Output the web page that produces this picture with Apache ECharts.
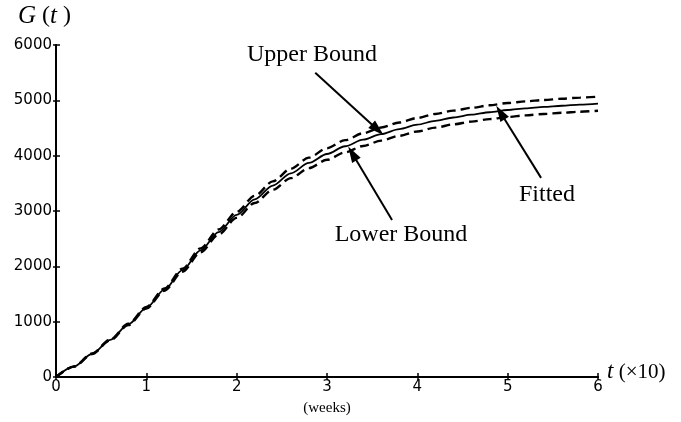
<!DOCTYPE html>
<html>
<head>
<meta charset="utf-8">
<script src="https://cdn.jsdelivr.net/npm/echarts@6/dist/echarts.min.js"></script>
<style>
  html, body { margin: 0; padding: 0; background: #fff; }
  #chart { width: 681px; height: 422px; }
</style>
</head>
<body>
<div id="chart"></div>
<script>
// time in units of 10 weeks
var tValues = [0, 0.2, 0.4, 0.6, 0.8, 1.0, 1.2, 1.4, 1.6, 1.8, 2.0, 2.2, 2.4, 2.6, 2.8, 3.0,
               3.2, 3.4, 3.6, 3.8, 4.0, 4.2, 4.4, 4.6, 4.8, 5.0, 5.2, 5.4, 5.6, 5.8, 6.0];
var fitted = [0, 190, 420, 670, 950, 1250, 1580, 1930, 2290, 2620, 2930, 3210, 3460, 3680, 3870, 4030,
              4170, 4290, 4390, 4480, 4560, 4630, 4690, 4740, 4785, 4825, 4855, 4880, 4902, 4922, 4940];
var upperBound = [0, 192, 425, 678, 962, 1265, 1600, 1958, 2325, 2665, 2985, 3275, 3535, 3765, 3965, 4135,
                  4280, 4405, 4508, 4600, 4682, 4753, 4814, 4865, 4910, 4951, 4981, 5007, 5029, 5049, 5067];
var lowerBound = [0, 188, 415, 662, 938, 1235, 1560, 1902, 2255, 2575, 2875, 3145, 3385, 3595, 3775, 3925,
                  4060, 4175, 4272, 4360, 4438, 4507, 4566, 4615, 4660, 4699, 4729, 4753, 4775, 4795, 4813];
var xTicks = [0, 1, 2, 3, 4, 5, 6];
var yTicks = [0, 1000, 2000, 3000, 4000, 5000, 6000];

// annotation arrows: [tail, head] in data coordinates
var upperArrow = [[2.87, 5497], [3.56, 4470]];
var lowerArrow = [[3.72, 2839], [3.28, 4040]];
var fittedArrow = [[5.37, 3599], [4.92, 4780]];

function pairs(xs, ys) {
  return xs.map(function (x, i) { return [x, ys[i]]; });
}

var serif = '"Liberation Serif", "DejaVu Serif", serif';
var sans = '"DejaVu Sans", sans-serif';

function arrowLine(a) {
  return [
    { coord: a[0], symbol: 'none' },
    { coord: a[1], symbol: 'triangle', symbolSize: [10, 16] }
  ];
}

var chart = echarts.init(document.getElementById('chart'), null, { renderer: 'canvas' });

var axisCommon = {
  axisLine: { show: true, onZero: false, lineStyle: { color: '#000', width: 2 } },
  splitLine: { show: false }
};

var plainNumber = function (v) { return String(v); };

chart.setOption({
  backgroundColor: '#fff',
  animation: false,
  grid: { left: 56, right: 83, top: 45, bottom: 45 },
  xAxis: [
    Object.assign({
      type: 'value', min: xTicks[0], max: xTicks[xTicks.length - 1], interval: 1,
      axisTick: { show: true, length: 3, lineStyle: { color: '#000', width: 1.5 } },
      axisLabel: { color: '#000', fontFamily: sans, fontSize: 15, margin: 3, formatter: plainNumber }
    }, axisCommon),
    Object.assign({
      type: 'value', min: xTicks[0], max: xTicks[xTicks.length - 1], interval: 1, position: 'bottom',
      axisTick: { show: true, inside: true, length: 4, lineStyle: { color: '#000', width: 1.5 } },
      axisLabel: { show: false }
    }, axisCommon)
  ],
  yAxis: [
    Object.assign({
      type: 'value', min: yTicks[0], max: yTicks[yTicks.length - 1], interval: 1000,
      axisTick: { show: true, length: 3, lineStyle: { color: '#000', width: 1.5 } },
      axisLabel: { color: '#000', fontFamily: sans, fontSize: 15, margin: 4, formatter: plainNumber }
    }, axisCommon),
    Object.assign({
      type: 'value', min: yTicks[0], max: yTicks[yTicks.length - 1], interval: 1000, position: 'left',
      axisTick: { show: true, inside: true, length: 4, lineStyle: { color: '#000', width: 1.5 } },
      axisLabel: { show: false }
    }, axisCommon)
  ],
  series: [
    {
      name: 'Fitted', type: 'line', data: pairs(tValues, fitted),
      showSymbol: false, smooth: 0.3, smoothMonotone: 'x',
      lineStyle: { color: '#000', width: 1.8, type: 'solid' },
      markLine: {
        silent: true, animation: false,
        label: { show: false },
        lineStyle: { color: '#000', width: 2, type: 'solid' },
        data: [arrowLine(upperArrow), arrowLine(lowerArrow), arrowLine(fittedArrow)]
      }
    },
    {
      name: 'Upper Bound', type: 'line', data: pairs(tValues, upperBound),
      showSymbol: false, smooth: 0.3, smoothMonotone: 'x',
      lineStyle: { color: '#000', width: 2.4, type: [9, 5] }
    },
    {
      name: 'Lower Bound', type: 'line', data: pairs(tValues, lowerBound),
      showSymbol: false, smooth: 0.3, smoothMonotone: 'x',
      lineStyle: { color: '#000', width: 2.4, type: [9, 5] }
    }
  ],
  graphic: [
    {
      type: 'text', x: 18, y: 16,
      style: {
        text: '{i|G} ({i|t} )', fill: '#000', verticalAlign: 'middle',
        rich: { i: { fontFamily: serif, fontStyle: 'italic', fontSize: 25 } },
        fontFamily: serif, fontSize: 24
      }
    },
    {
      type: 'text', x: 607, y: 372,
      style: {
        text: '{i|t} (×10)', fill: '#000', verticalAlign: 'middle',
        rich: { i: { fontFamily: serif, fontStyle: 'italic', fontSize: 23 } },
        fontFamily: serif, fontSize: 21
      }
    },
    {
      type: 'text', x: 327, y: 408,
      style: { text: '(weeks)', fill: '#000', fontFamily: serif, fontSize: 15, align: 'center', verticalAlign: 'middle' }
    },
    {
      type: 'text', x: 312, y: 55,
      style: { text: 'Upper Bound', fill: '#000', fontFamily: serif, fontSize: 24, align: 'center', verticalAlign: 'middle' }
    },
    {
      type: 'text', x: 401, y: 235,
      style: { text: 'Lower Bound', fill: '#000', fontFamily: serif, fontSize: 24, align: 'center', verticalAlign: 'middle' }
    },
    {
      type: 'text', x: 547, y: 195,
      style: { text: 'Fitted', fill: '#000', fontFamily: serif, fontSize: 24, align: 'center', verticalAlign: 'middle' }
    }
  ]
});
</script>
</body>
</html>
